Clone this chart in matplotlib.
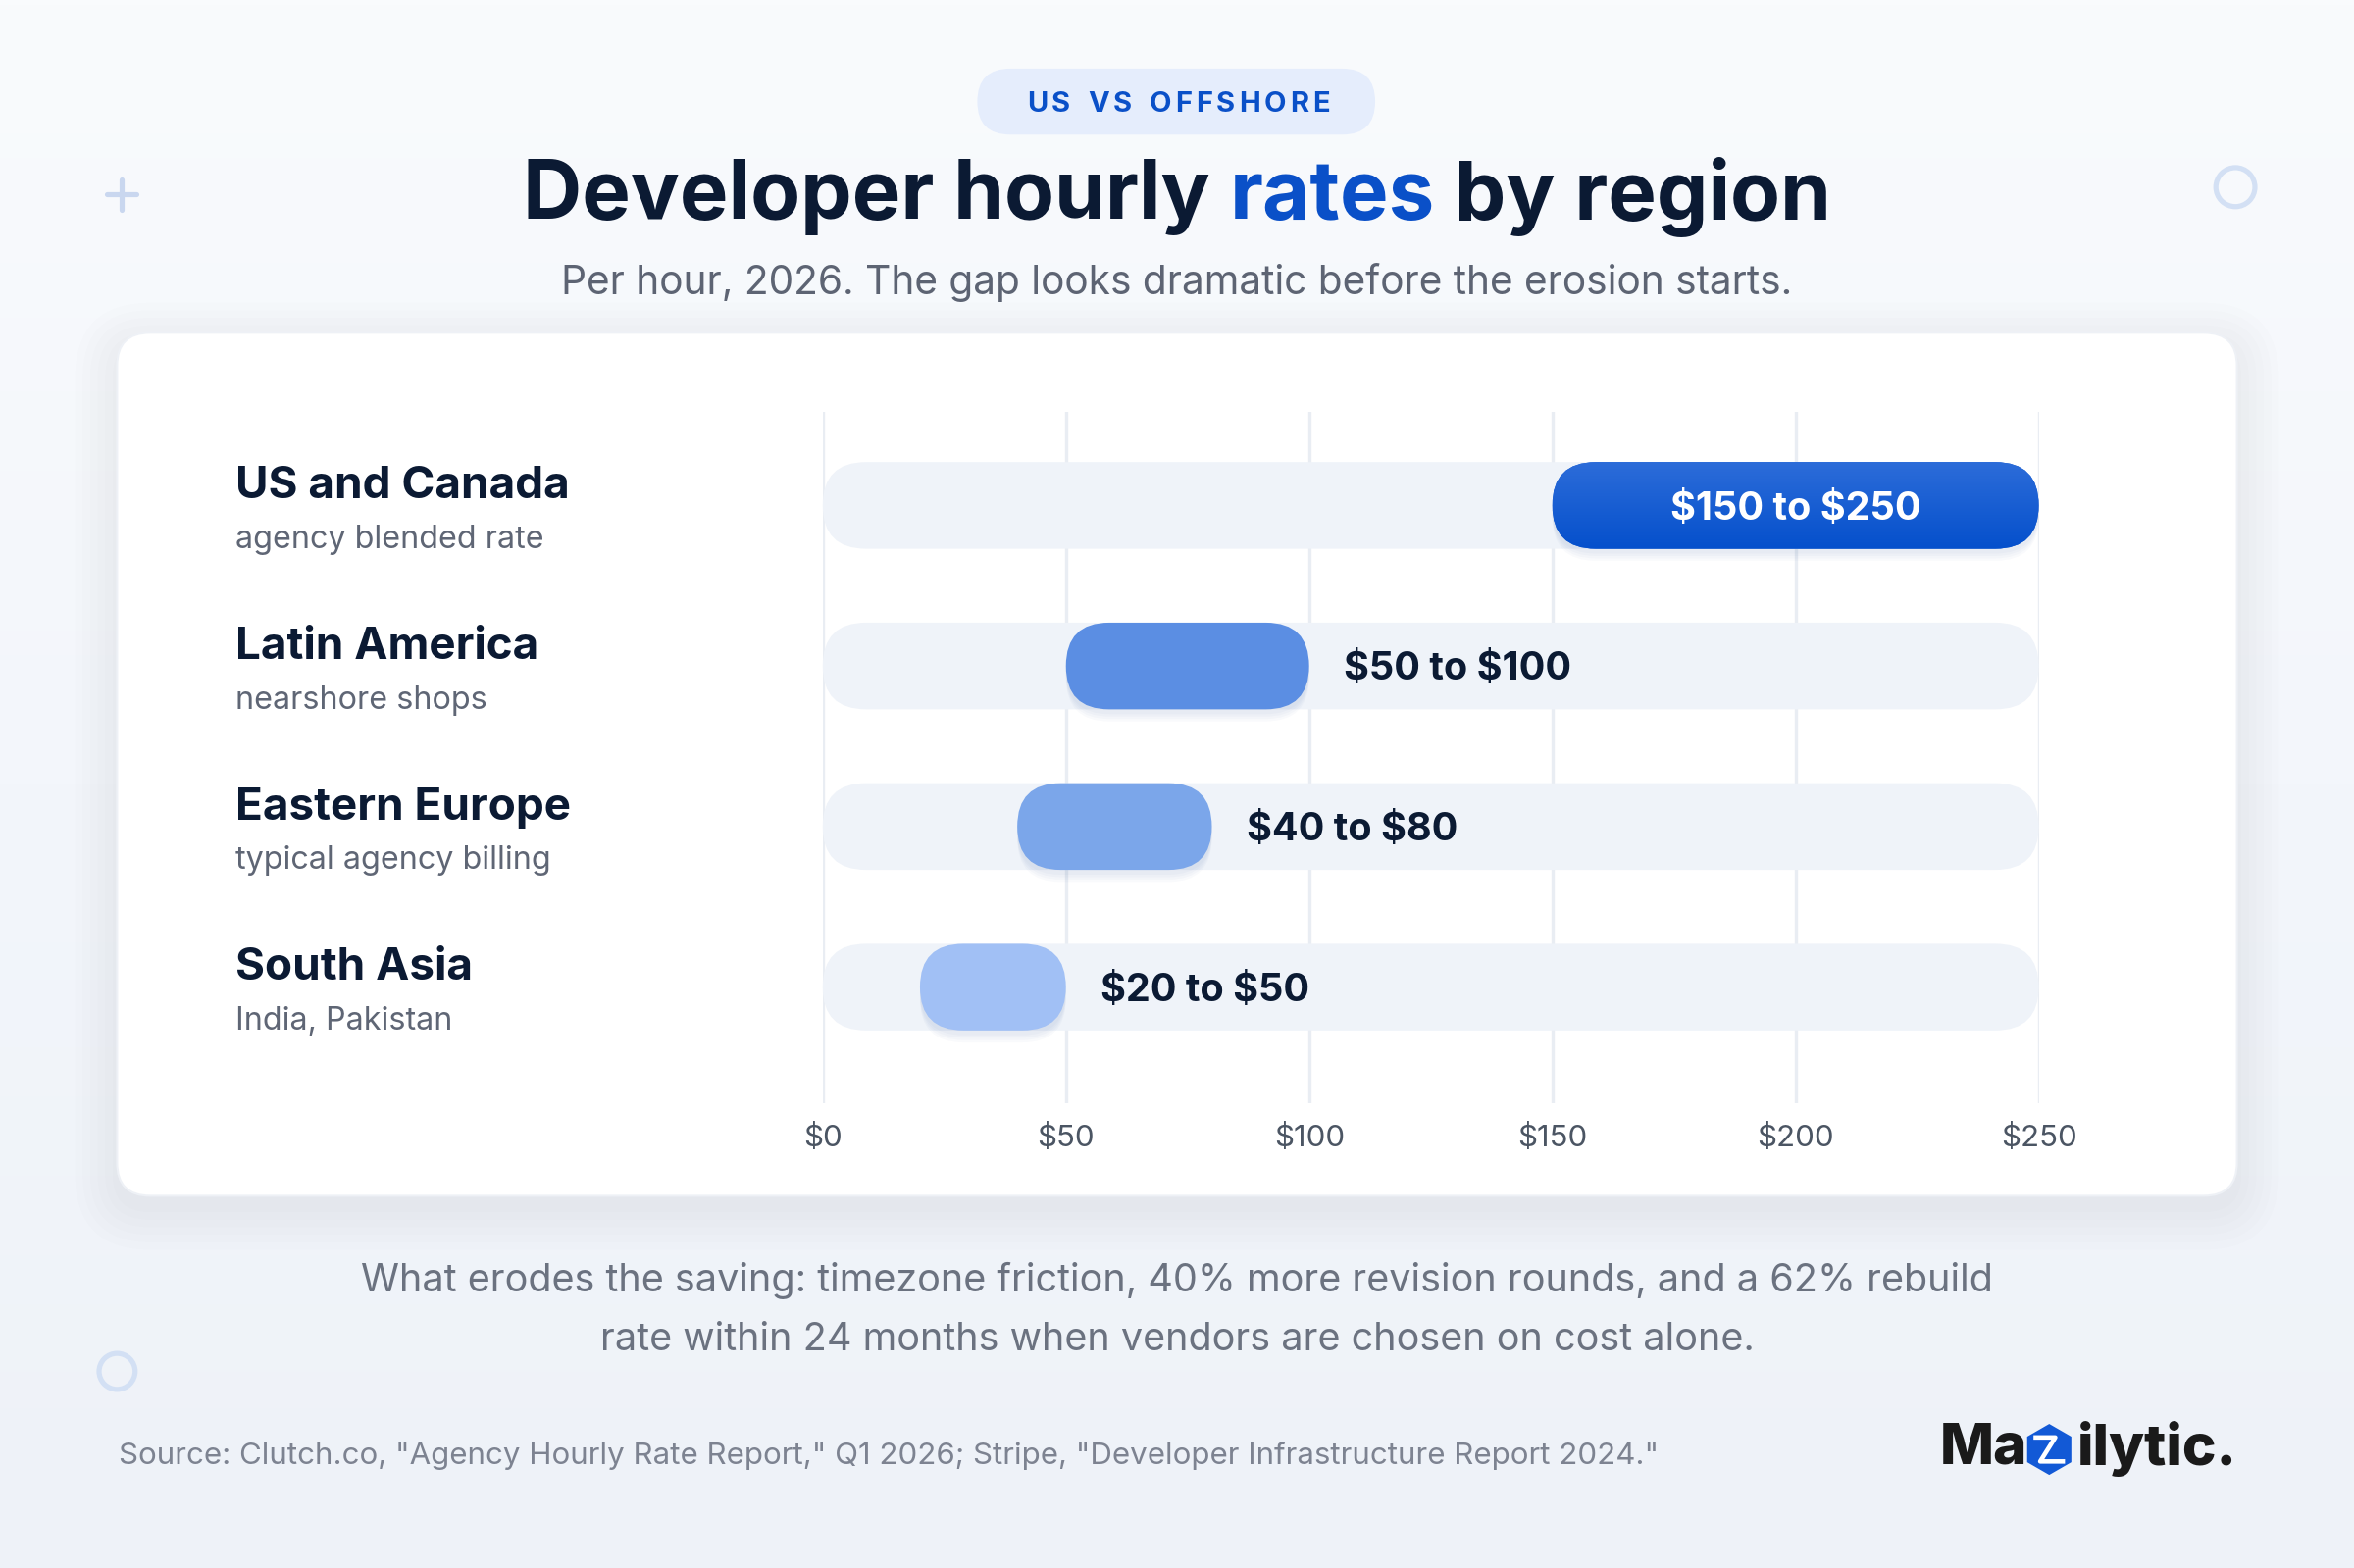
import numpy as np
import matplotlib
matplotlib.use("Agg")
import matplotlib.pyplot as plt
from matplotlib.patches import FancyBboxPatch, Circle, Polygon
from matplotlib.colors import LinearSegmentedColormap
from matplotlib import transforms

plt.rcParams['font.family'] = ['Inter', 'DejaVu Sans']
plt.rcParams['text.parse_math'] = False

# ---- data ----
regions = ["US and Canada", "Latin America", "Eastern Europe", "South Asia"]
notes = ["agency blended rate", "nearshore shops", "typical agency billing", "India, Pakistan"]
rate_low = [150, 50, 40, 20]
rate_high = [250, 100, 80, 50]
bar_colors = ["#0b55cf", "#5b8ee3", "#7ba6ea", "#a1c0f5"]
ticks = [0, 50, 100, 150, 200, 250]
tick_labels = ["$0", "$50", "$100", "$150", "$200", "$250"]

kicker = "US VS OFFSHORE"
title_parts = [("Developer hourly ", "#0b1a33"), ("rates", "#0a50c8"), (" by region", "#0b1a33")]
subtitle = "Per hour, 2026. The gap looks dramatic before the erosion starts."
footer = ("What erodes the saving: timezone friction, 40% more revision rounds, and a 62% rebuild\n"
          "rate within 24 months when vendors are chosen on cost alone.")
source = 'Source: Clutch.co, "Agency Hourly Rate Report," Q1 2026; Stripe, "Developer Infrastructure Report 2024."'

NAVY = "#0b1a33"
W, H = 1568, 1045  # layout grid in px

fig = plt.figure(figsize=(16, 16 * H / W), dpi=150)
bg = fig.add_axes([0, 0, 1, 1], zorder=0)
bg.set_xlim(0, W)
bg.set_ylim(H, 0)
bg.axis('off')

# background gradient
grad = np.linspace(0, 1, 256).reshape(-1, 1)
bg_cmap = LinearSegmentedColormap.from_list("bg", ["#f9fbfd", "#f3f6fb", "#eef2f8"])
bg.imshow(grad, extent=[0, W, H, 0], cmap=bg_cmap, aspect='auto', zorder=0)

# decorations
bg.plot([81, 81], [120, 140], color="#c9d7ef", lw=2.5, solid_capstyle='round', zorder=1)
bg.plot([71, 91], [130, 130], color="#c9d7ef", lw=2.5, solid_capstyle='round', zorder=1)
bg.add_patch(Circle((1489, 125), 13, fill=False, ec="#d3e0f4", lw=2.5, zorder=1))
bg.add_patch(Circle((78, 914), 12, fill=False, ec="#d3e0f4", lw=2.5, zorder=1))

# card with soft shadow
for i in range(6):
    g = 3 + i * 5
    bg.add_patch(FancyBboxPatch((78 - g, 222 - g + 8), 1412 + 2 * g, 575 + 2 * g,
                                boxstyle=f"round,pad=0,rounding_size={22 + g}",
                                fc="#1e3a6e", ec="none", alpha=0.006, zorder=1))
bg.add_patch(FancyBboxPatch((78, 222), 1412, 575, boxstyle="round,pad=0,rounding_size=22",
                            fc="white", ec="#eef1f6", lw=1, zorder=2))

# kicker pill
bg.add_patch(FancyBboxPatch((651, 46), 265, 44, boxstyle="round,pad=0,rounding_size=22",
                            fc="#e5edfc", ec="none", zorder=2))

fig.canvas.draw()
renderer = fig.canvas.get_renderer()


def px_width(t):
    bb = t.get_window_extent(renderer)
    return bb.width * W / fig.bbox.width


def spaced_text(s, cx, cy, spacing, **kw):
    items = [bg.text(0, cy, ch, ha='left', va='center', zorder=3, **kw) for ch in s]
    widths = [px_width(t) if ch != " " else px_width(bg.text(0, 0, "n", alpha=0, **kw)) * 0.55
              for ch, t in zip(s, items)]
    total = sum(widths) + spacing * (len(s) - 1)
    x = cx - total / 2
    for t, w in zip(items, widths):
        t.set_x(x)
        x += w + spacing


def multi_text(parts, cx, cy, **kw):
    items = [bg.text(0, cy, s, color=c, ha='left', va='center', zorder=3, **kw) for s, c in parts]
    widths = [px_width(t) for t in items]
    x = cx - sum(widths) / 2
    for t, w in zip(items, widths):
        t.set_x(x)
        x += w


spaced_text(kicker, 785, 69.5, 2.6, fontsize=14, fontweight='bold', color="#0a50c8")
multi_text(title_parts, 784, 131, fontsize=40, fontweight='bold')
bg.text(784, 188, subtitle, ha='center', va='center', fontsize=19.5, color="#5d6473", zorder=3)

bg.text(784, 873, footer, ha='center', va='center', fontsize=19, color="#6b7280",
        linespacing=1.78, zorder=3)
bg.text(79, 970, source, ha='left', va='center', fontsize=15, color="#7d8391", zorder=3)

# logo
bg.text(1292, 965, "Ma", ha='left', va='center', fontsize=28, fontweight='heavy',
        color="#1a1a1a", zorder=3)
bg.text(1490, 965, "ilytic.", ha='right', va='center', fontsize=28, fontweight='heavy',
        color="#1a1a1a", zorder=3)
hx, hy, hr = 1365, 966, 17
hexagon = [(hx + hr * np.cos(a), hy + hr * np.sin(a)) for a in np.deg2rad(np.arange(-90, 270, 60))]
bg.add_patch(Polygon(hexagon, closed=True, fc="#1259d6", ec="none", zorder=3))
bg.plot([hx - 9, hx + 4, hx - 6, hx + 9], [hy - 8, hy - 8, hy + 8, hy + 8],
        color="white", lw=2.2, zorder=4)

# ---- chart axes ----
ax_left, ax_right, ax_top, ax_bot = 548, 1358, 275, 735
ax = fig.add_axes([ax_left / W, 1 - ax_bot / H, (ax_right - ax_left) / W, (ax_bot - ax_top) / H],
                  zorder=3)
ax.patch.set_alpha(0)
n = len(regions)
ypos = np.arange(n)
ylim = (3.72, -0.58)
ax.set_xlim(0, 250)
ax.set_ylim(*ylim)
for sp in ax.spines.values():
    sp.set_visible(False)
ax.set_yticks([])
ax.set_xticks(ticks, labels=tick_labels)
ax.tick_params(axis='x', length=0, pad=10, labelsize=15, labelcolor="#4b5563")
ax.grid(axis='x', color="#e9edf3", lw=1.6)
ax.set_axisbelow(True)

bb = ax.get_window_extent(renderer)
px_x = bb.width / 250
px_y = bb.height / abs(ylim[0] - ylim[1])
aspect = px_x / px_y
bh = 0.54
rad = bh / 2 / aspect


def pill(lo, hi, y, **kw):
    p = FancyBboxPatch((lo, y - bh / 2), hi - lo, bh,
                       boxstyle=f"round,pad=0,rounding_size={rad}",
                       mutation_aspect=aspect, clip_on=False, **kw)
    ax.add_patch(p)
    return p


blue_cmap = LinearSegmentedColormap.from_list("bar", ["#2c6cd9", "#0550cc"])
for i in range(n):
    y = ypos[i]
    lo, hi = rate_low[i], rate_high[i]
    pill(0, 250, y, fc="#eff3f9", ec="none", zorder=2)
    for k in range(4):
        pill(lo, hi, y + 0.03 + k * 0.015, fc="#0b3b8f", ec="none", alpha=0.022, zorder=2.5)
    bar = pill(lo, hi, y, fc=bar_colors[i], ec="none", zorder=3)
    label = f"${lo} to ${hi}"
    if i == 0:
        im = ax.imshow(np.linspace(0, 1, 64).reshape(-1, 1), extent=[lo, hi, y + bh / 2, y - bh / 2],
                       cmap=blue_cmap, aspect='auto', zorder=3.2)
        im.set_clip_path(bar)
        ax.annotate(label, ((lo + hi) / 2, y), xytext=(0, -1.5), textcoords='offset points',
                    ha='center', va='center', fontsize=19, fontweight='bold', color="white",
                    zorder=4)
    else:
        ax.annotate(label, (hi, y), xytext=(17, -1.5), textcoords='offset points',
                    ha='left', va='center', fontsize=19, fontweight='bold', color=NAVY, zorder=4)

ax.set_xlim(0, 250)
ax.set_ylim(*ylim)

# region labels
lab_tr = transforms.blended_transform_factory(bg.transData, ax.transData)
for i in range(n):
    ax.text(157, ypos[i] - 0.12, regions[i], transform=lab_tr, ha='left', va='center',
            fontsize=22, fontweight='bold', color=NAVY, clip_on=False)
    ax.text(157, ypos[i] + 0.21, notes[i], transform=lab_tr, ha='left', va='center',
            fontsize=15.5, color="#5f6675", clip_on=False)

fig.savefig("out.png", dpi=150)
